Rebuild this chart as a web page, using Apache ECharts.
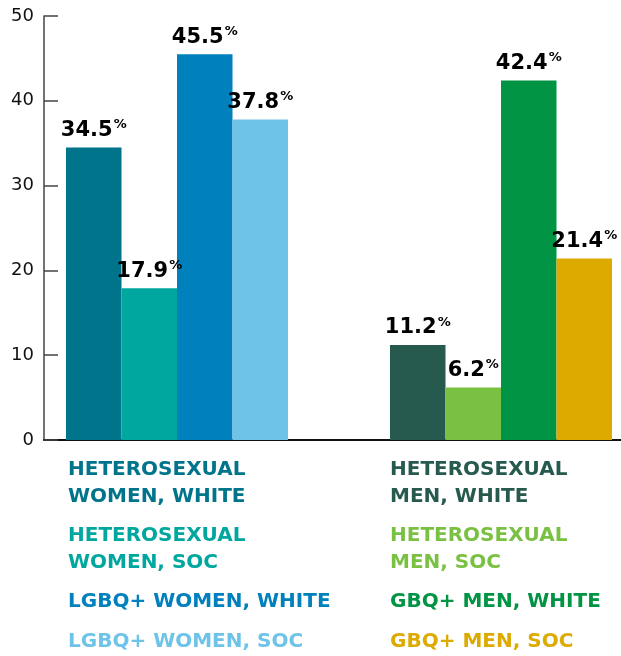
<!DOCTYPE html>
<html>
<head>
<meta charset="utf-8">
<script src="https://cdn.jsdelivr.net/npm/echarts@6/dist/echarts.min.js"></script>
<style>html,body{margin:0;padding:0;background:#fff}#c{width:621px;height:656px}</style>
</head>
<body>
<div id="c"></div>
<script>
// ---- data ----
const categories = [
  'HETEROSEXUAL\nWOMEN, WHITE',
  'HETEROSEXUAL\nWOMEN, SOC',
  'LGBQ+ WOMEN, WHITE',
  'LGBQ+ WOMEN, SOC',
  'HETEROSEXUAL\nMEN, WHITE',
  'HETEROSEXUAL\nMEN, SOC',
  'GBQ+ MEN, WHITE',
  'GBQ+ MEN, SOC'
];
const values = [34.5, 17.9, 45.5, 37.8, 11.2, 6.2, 42.4, 21.4];
const yTicks = [0, 10, 20, 30, 40, 50];

// ---- style ----
const colors = ['#00748A', '#00A79E', '#0080BC', '#6EC4E8', '#275A4E', '#7AC143', '#009444', '#DDAA00'];
const FONT = 'DejaVu Sans';

// layout (pixels)
const gridLeft = 44, gridTop = 16, gridBottom = 216;
const barPx = 55.5;
const firstBarPx = 66, secondGroupPx = 390, chartW = 621;
const groupStep = (secondGroupPx - firstBarPx) / barPx; // in bar units
const xMin = -(firstBarPx - gridLeft) / barPx;
const xMax = (chartW - firstBarPx) / barPx;

function slot(i) {
  const g = Math.floor(i / 4), w = i % 4;
  return g * groupStep + w + 0.5;
}

const series = categories.map((name, i) => ({
  name: name,
  type: 'bar',
  barWidth: barPx,
  barGap: '-100%',
  itemStyle: { color: colors[i] },
  data: [[slot(i), values[i]]],
  label: {
    show: true,
    position: 'top',
    distance: 5,
    formatter: p => '{v|' + p.value[1].toFixed(1) + '}{p|%}',
    rich: {
      v: { fontFamily: FONT, fontWeight: 'bold', fontSize: 21, color: '#000', lineHeight: 24 },
      p: { fontFamily: FONT, fontWeight: 'bold', fontSize: 13, color: '#000', verticalAlign: 'top', lineHeight: 24, padding: [0, 0, 6, 1] }
    }
  }
}));

function legendFor(idx, left) {
  return {
    orient: 'vertical',
    left: left,
    top: 457,
    padding: 0,
    itemGap: 13,
    itemWidth: 0,
    itemHeight: 0,
    icon: 'none',
    selectedMode: false,
    textStyle: { fontFamily: FONT, fontWeight: 'bold', fontSize: 20, lineHeight: 26.5 },
    data: idx.map(i => ({ name: categories[i], textStyle: { color: colors[i] } }))
  };
}

const chart = echarts.init(document.getElementById('c'));
chart.setOption({
  animation: false,
  backgroundColor: '#fff',
  grid: { left: gridLeft, right: 0, top: gridTop, bottom: gridBottom, containLabel: false },
  xAxis: {
    type: 'value',
    min: xMin,
    max: xMax,
    axisLine: { show: true, onZero: true, lineStyle: { color: '#111', width: 2 } },
    axisTick: { show: false },
    axisLabel: { show: false },
    splitLine: { show: false }
  },
  yAxis: {
    type: 'value',
    min: yTicks[0],
    max: yTicks[yTicks.length - 1],
    interval: yTicks[1] - yTicks[0],
    axisLine: { show: true, onZero: false, lineStyle: { color: '#444', width: 1.5 } },
    axisTick: { show: true, inside: true, length: 14, lineStyle: { color: '#444', width: 1.5 } },
    axisLabel: { margin: 10, fontFamily: FONT, fontSize: 18, color: '#111' },
    splitLine: { show: false }
  },
  legend: [legendFor([0, 1, 2, 3], 63), legendFor([4, 5, 6, 7], 385)],
  series: series
});
</script>
</body>
</html>
